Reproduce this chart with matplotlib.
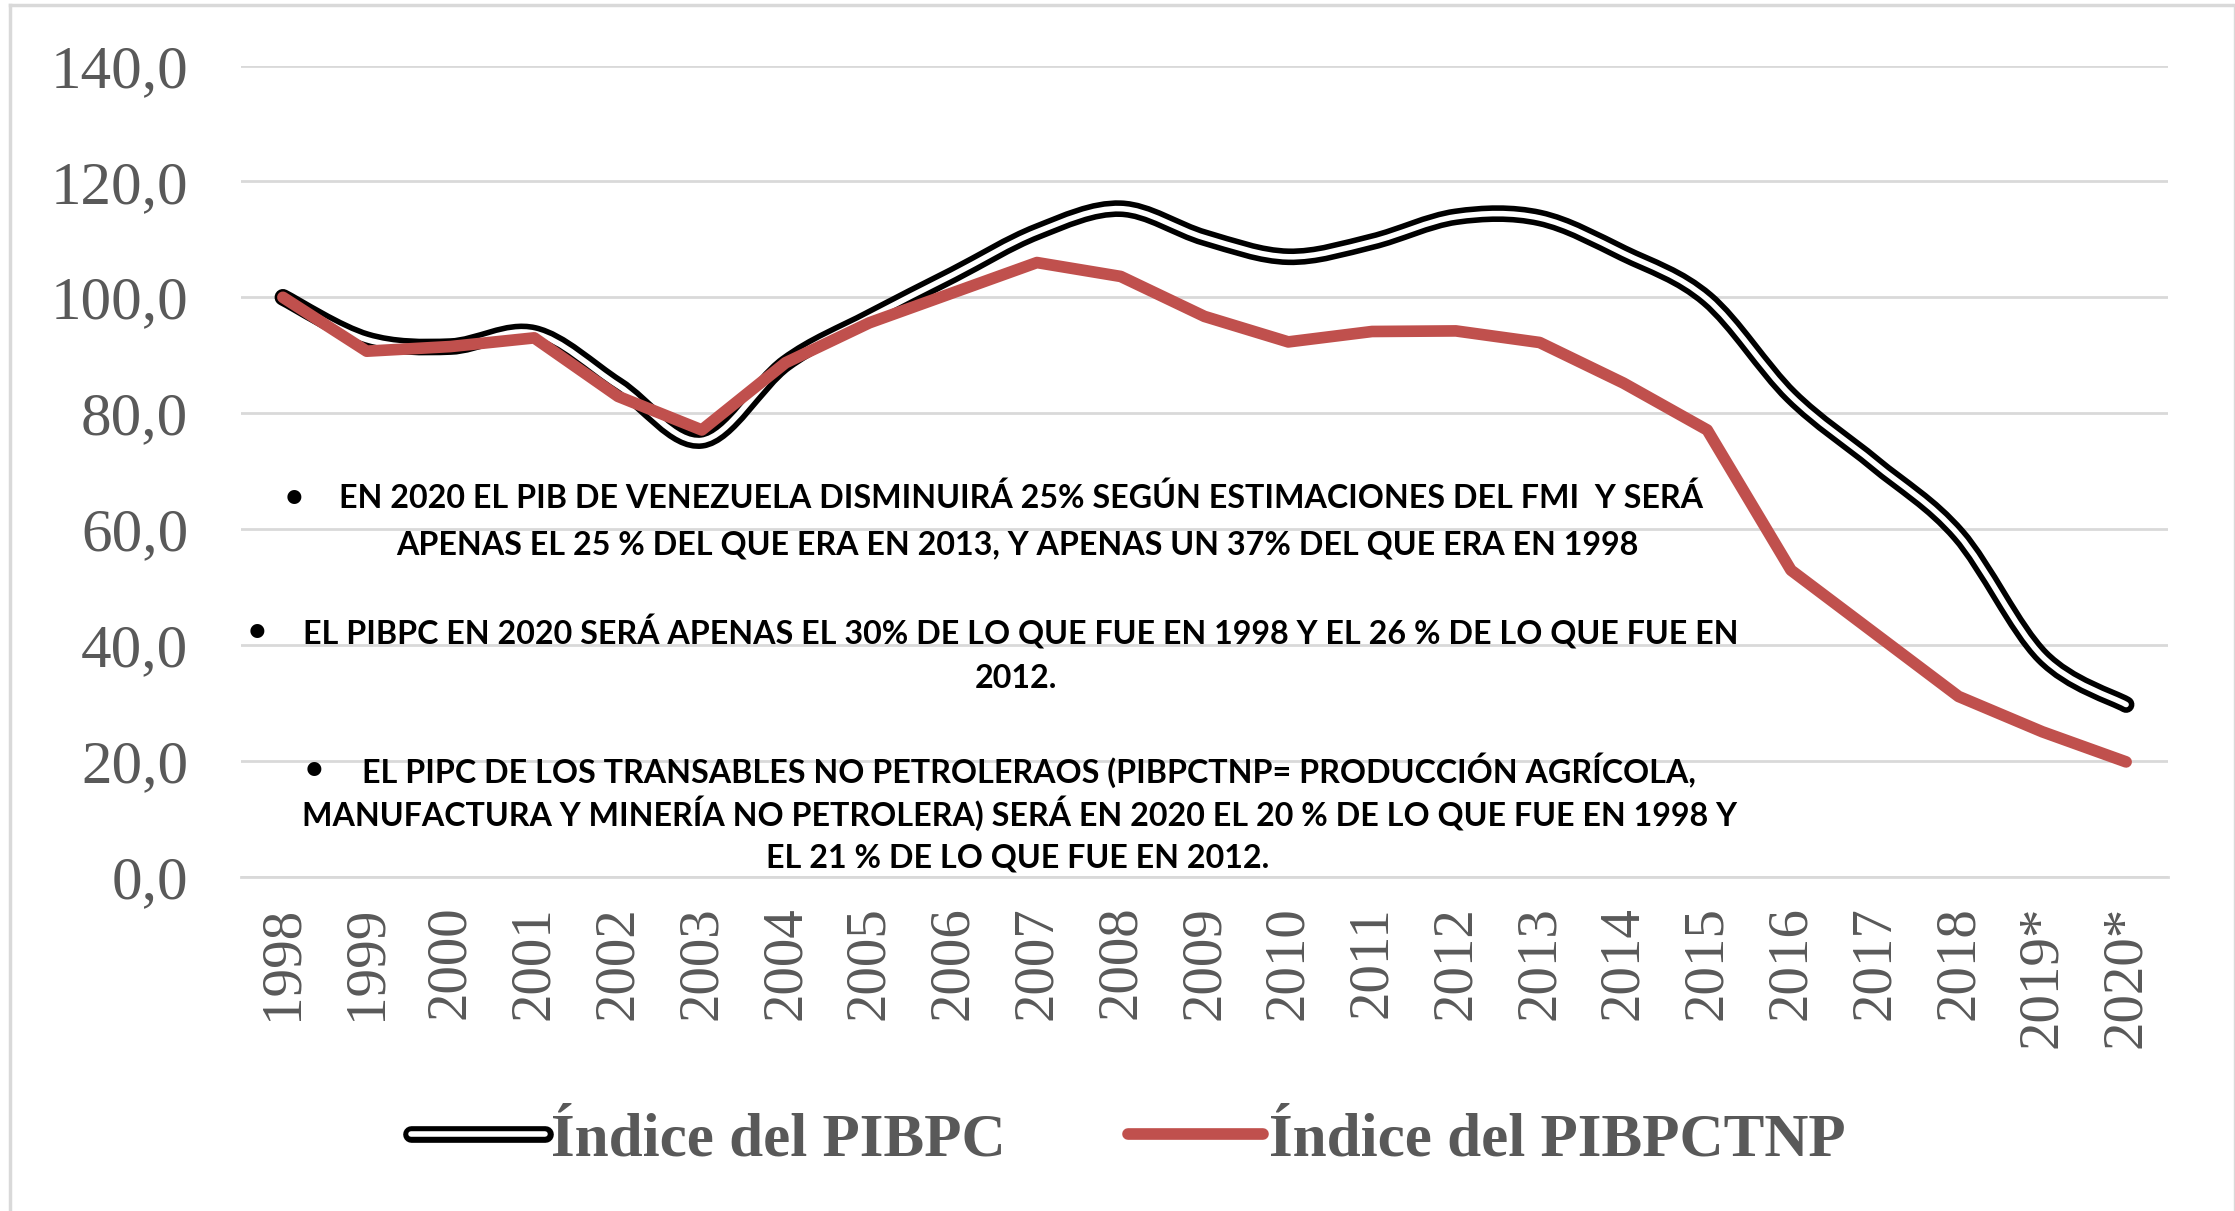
import numpy as np
import matplotlib
matplotlib.use("Agg")
import matplotlib.pyplot as plt
from matplotlib.path import Path
from matplotlib.patches import PathPatch
from matplotlib.lines import Line2D
from matplotlib.legend_handler import HandlerTuple

years = ["1998", "1999", "2000", "2001", "2002", "2003", "2004", "2005", "2006",
         "2007", "2008", "2009", "2010", "2011", "2012", "2013", "2014", "2015",
         "2016", "2017", "2018", "2019*", "2020*"]
pibpc = [100.0, 92.7, 91.5, 93.8, 84.8, 75.3, 88.6, 96.5, 103.9, 111.3, 115.3,
         110.3, 107.0, 109.6, 113.9, 113.7, 107.6, 99.7, 83.0, 71.3, 59.0, 38.0, 29.7]
pibpctnp = [100.0, 90.7, 91.5, 93.0, 82.9, 77.1, 88.7, 95.6, 100.8, 106.0, 103.6,
            96.7, 92.3, 94.1, 94.2, 92.2, 85.2, 77.1, 52.9, 42.0, 31.1, 25.0, 19.8]
label_pibpc = "Índice del PIBPC"
label_tnp = "Índice del PIBPCTNP"
notes = [
    ("\u2022", 285, 498, "left"),
    ("EN 2020 EL PIB DE VENEZUELA DISMINUIRÁ 25% SEGÚN ESTIMACIONES DEL FMI  Y SERÁ", 339, 498, "left"),
    ("APENAS EL 25 % DEL QUE ERA EN 2013, Y APENAS UN 37% DEL QUE ERA EN 1998", 1017, 545, "center"),
    ("\u2022", 248, 632, "left"),
    ("EL PIBPC EN 2020 SERÁ APENAS EL 30% DE LO QUE FUE EN 1998 Y EL 26 % DE LO QUE FUE EN", 303, 632, "left"),
    ("2012.", 1016, 678, "center"),
    ("\u2022", 305, 770, "left"),
    ("EL PIPC DE LOS TRANSABLES NO PETROLERAOS (PIBPCTNP= PRODUCCIÓN AGRÍCOLA,", 362, 770, "left"),
    ("MANUFACTURA Y MINERÍA NO PETROLERA) SERÁ EN 2020 EL 20 % DE LO QUE FUE EN 1998 Y", 302, 813, "left"),
    ("EL 21 % DE LO QUE FUE EN 2012.", 1018, 858, "center"),
]

W, H = 2235, 1211
GRID = "#D9D9D9"
TXT = "#595959"
RED = "#C0504D"

fig = plt.figure(figsize=(W / 100, H / 100), dpi=100)
ax = fig.add_axes([241 / W, 1 - 876.6 / H, (2168 - 241) / W, (876.6 - 65.6) / H])

x = np.arange(len(years))


def smooth_path(xs, ys):
    # excel-style smoothed line: bezier through each point
    pts = np.column_stack([xs, ys]).astype(float)
    n = len(pts)
    verts = [pts[0]]
    codes = [Path.MOVETO]
    for i in range(n - 1):
        p0 = pts[i - 1] if i > 0 else pts[i]
        p1 = pts[i]
        p2 = pts[i + 1]
        p3 = pts[i + 2] if i + 2 < n else pts[i + 1]
        c1 = p1 + (p2 - p0) / 6.0
        c2 = p2 - (p3 - p1) / 6.0
        verts += [c1, c2, p2]
        codes += [Path.CURVE4] * 3
    return Path(verts, codes)


path = smooth_path(x, pibpc)
ax.add_patch(PathPatch(path, fill=False, edgecolor="black", lw=12,
                       capstyle="round", joinstyle="round", zorder=3))
ax.add_patch(PathPatch(path, fill=False, edgecolor="white", lw=4,
                       capstyle="round", joinstyle="round", zorder=3.1))
ax.plot(x, pibpctnp, color=RED, lw=8.4, solid_capstyle="round",
        solid_joinstyle="round", zorder=4)

ax.set_xlim(-0.5, len(years) - 0.5)
ax.set_ylim(0, 140)
ax.set_yticks(np.arange(0, 141, 20))
ax.set_yticklabels([f"{v:.1f}".replace(".", ",") for v in np.arange(0, 141, 20)])
ax.set_xticks(x)
ax.set_xticklabels(years, rotation=90, va="top", ha="center")
ax.tick_params(axis="both", length=0, labelcolor=TXT)
ax.tick_params(axis="y", pad=38, labelsize=44)
ax.tick_params(axis="x", pad=21, labelsize=41)
for lab in ax.get_xticklabels() + ax.get_yticklabels():
    lab.set_fontfamily("Liberation Serif")

ax.grid(axis="y", color=GRID, lw=2)
ax.set_axisbelow(True)
for s in ["top", "right", "left"]:
    ax.spines[s].set_visible(False)
ax.spines["bottom"].set_color(GRID)
ax.spines["bottom"].set_linewidth(2)

for txt, px, py, ha in notes:
    fig.text(px / W, 1 - py / H, txt, ha=ha, va="center", fontsize=23.2,
             fontweight="bold", family="Lato", color="black")

h1 = (Line2D([], [], color="black", lw=12, solid_capstyle="round"),
      Line2D([], [], color="white", lw=4, solid_capstyle="round"))
h2 = Line2D([], [], color=RED, lw=8.4, solid_capstyle="round")
fig.legend([h1, h2], [label_pibpc, label_tnp], loc="center",
           bbox_to_anchor=(1128 / W, 1 - 1140 / H), ncol=2, frameon=False,
           handler_map={tuple: HandlerTuple(ndivide=1)},
           handlelength=2.2, handletextpad=0.1, columnspacing=2.0,
           prop={"family": "Liberation Serif", "weight": "bold", "size": 44},
           labelcolor=TXT)

# outer chart border
fig.add_artist(Line2D([9.5 / W, 9.5 / W], [0, 1 - 5 / H], color=GRID, lw=2.5))
fig.add_artist(Line2D([9.5 / W, 2233.5 / W], [1 - 5 / H, 1 - 5 / H], color=GRID, lw=2.5))
fig.add_artist(Line2D([2233.5 / W, 2233.5 / W], [0, 1 - 5 / H], color=GRID, lw=1))

fig.savefig("out.png", dpi=100)
